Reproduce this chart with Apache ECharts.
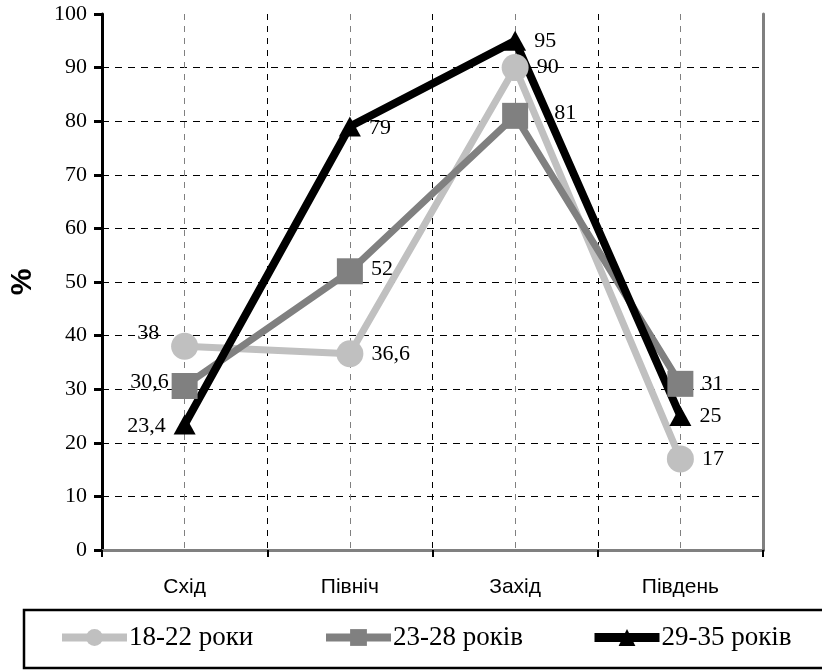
<!DOCTYPE html>
<html>
<head>
<meta charset="utf-8">
<script src="https://cdn.jsdelivr.net/npm/echarts@6/dist/echarts.min.js"></script>
<style>
  html, body { margin: 0; padding: 0; background: #fff; }
  #chart { width: 822px; height: 670px; }
</style>
</head>
<body>
<div id="chart"></div>
<script>
const categories = ['Схід', 'Північ', 'Захід', 'Південь'];
const seriesNames = ['18-22 роки', '23-28 років', '29-35 років'];
const age18to22 = [38, 36.6, 90, 17];
const age23to28 = [30.6, 52, 81, 31];
const age29to35 = [23.4, 79, 95, 25];

// where each value label sits next to its point
const labelOffsets = [
  [[-7, -13], [3, 0], [3, 0], [3, 0]],
  [[2, -4], [3, -2], [21, -3], [3, 0]],
  [[-3, 2], [3, 2], [3, 0], [3, 0]]
];

const serif = 'Liberation Serif';
const sans = 'Liberation Sans';

const styles = [
  { color: '#c0c0c0', symbol: 'circle', size: 27, width: 7 },
  { color: '#808080', symbol: 'rect', size: 26, width: 7 },
  { color: '#000000', symbol: 'triangle', size: [22, 20], width: 8 }
];

function fmt(v) {
  return String(v).replace('.', ',');
}

function buildSeries(name, values, idx) {
  const st = styles[idx];
  return {
    name: name,
    type: 'line',
    data: values.map((v, i) => ({
      value: v,
      label: {
        position: i === 0 ? 'left' : 'right',
        offset: labelOffsets[idx][i]
      }
    })),
    symbol: st.symbol,
    symbolSize: st.size,
    lineStyle: { color: st.color, width: st.width },
    itemStyle: { color: st.color },
    label: {
      show: true,
      color: '#000',
      fontFamily: serif,
      fontSize: 22,
      formatter: p => fmt(p.value)
    },
    emphasis: { disabled: true },
    animation: false
  };
}

const legendLefts = [58, 322, 590];

const chart = echarts.init(document.getElementById('chart'));
chart.setOption({
  backgroundColor: '#fff',
  grid: { left: 101, right: 59, top: 14, bottom: 120 },
  xAxis: [
    {
      type: 'category',
      data: categories,
      boundaryGap: true,
      axisLine: { lineStyle: { color: '#000', width: 3 } },
      axisTick: { show: true, length: 7, lineStyle: { color: '#000', width: 2 } },
      axisLabel: { color: '#000', fontFamily: sans, fontSize: 21, margin: 27 },
      splitLine: { show: false }
    },
    {
      type: 'value',
      min: 0,
      max: 8,
      interval: 1,
      position: 'top',
      axisLine: { show: true, lineStyle: { color: '#808080', width: 3 } },
      axisTick: { show: false },
      axisLabel: { show: false },
      splitLine: {
        show: true,
        showMinLine: false,
        showMaxLine: false,
        lineStyle: { color: ['#808080', '#000'], type: [6, 6], width: 1 }
      }
    }
  ],
  yAxis: [
    {
      type: 'value',
      min: 0,
      max: 100,
      interval: 10,
      name: '%',
      nameLocation: 'middle',
      nameGap: 64,
      nameRotate: 90,
      nameTextStyle: { color: '#000', fontFamily: sans, fontSize: 30, fontWeight: 'bold' },
      axisLine: { show: true, lineStyle: { color: '#000', width: 3 } },
      axisTick: { show: true, length: 8, lineStyle: { color: '#000', width: 3 } },
      axisLabel: { color: '#000', fontFamily: serif, fontSize: 22, margin: 15 },
      splitLine: {
        show: true,
        showMinLine: false,
        showMaxLine: false,
        lineStyle: { color: '#000', type: [7, 6], width: 1 }
      }
    },
    {
      type: 'value',
      min: 0,
      max: 100,
      position: 'right',
      axisLine: { show: true, lineStyle: { color: '#808080', width: 3 } },
      axisTick: { show: false },
      axisLabel: { show: false },
      splitLine: { show: false }
    }
  ],
  legend: seriesNames.map((n, i) => ({
    data: [n],
    left: legendLefts[i],
    top: 624,
    padding: 0,
    itemWidth: 65,
    itemHeight: 21,
    itemGap: 0,
    selectedMode: false,
    lineStyle: { width: styles[i].width + 1 },
    textStyle: { color: '#000', fontFamily: serif, fontSize: 27, padding: [0, 0, 0, -3] }
  })),
  graphic: [
    {
      type: 'rect',
      shape: { x: 24, y: 610, width: 800, height: 58 },
      style: { fill: 'none', stroke: '#000', lineWidth: 2.5 },
      silent: true
    }
  ],
  series: [
    buildSeries(seriesNames[0], age18to22, 0),
    buildSeries(seriesNames[1], age23to28, 1),
    buildSeries(seriesNames[2], age29to35, 2)
  ]
});
</script>
</body>
</html>
